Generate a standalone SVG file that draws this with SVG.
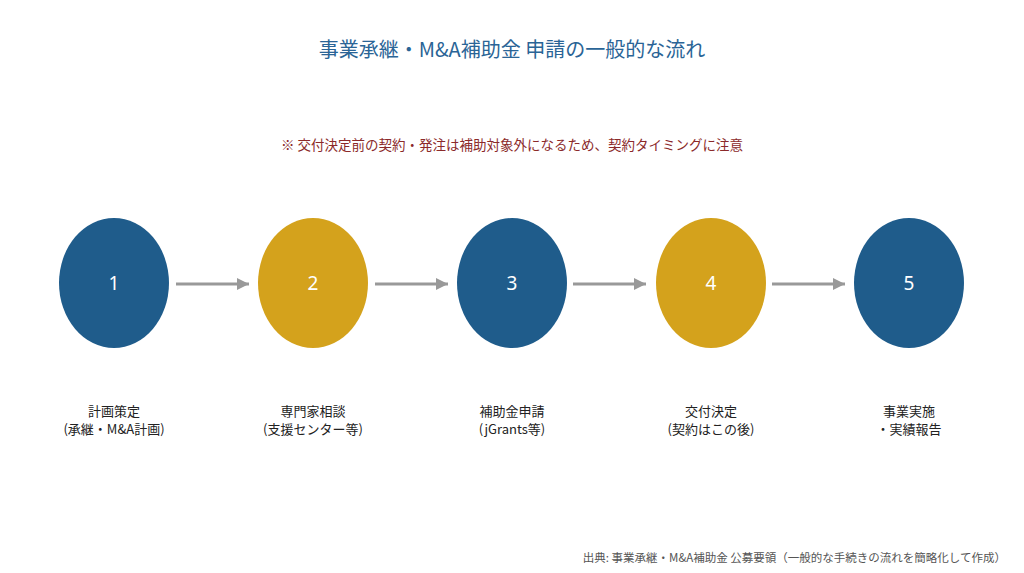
<svg xmlns="http://www.w3.org/2000/svg" width="1024" height="573" viewBox="0 0 1024 573">
<defs>
<marker id="ah" viewBox="0 0 10 10" refX="10" refY="5" markerWidth="4" markerHeight="4" orient="auto" markerUnits="strokeWidth">
<path d="M0,0 L10,5 L0,10 z" fill="#999999"/>
</marker>
<style>
text{font-family:"Noto Sans CJK JP","Noto Sans",sans-serif;}
.title{font-size:20px;fill:#2a6496;text-anchor:middle;}
.note{font-size:13.5px;fill:#8b2a2a;text-anchor:middle;}
.num{font-size:19px;fill:#ffffff;text-anchor:middle;font-family:"Noto Sans","Noto Sans CJK JP",sans-serif;}
.lbl{font-size:13px;fill:#222222;text-anchor:middle;}
.src{font-size:11.5px;fill:#555555;text-anchor:end;}
.blue{fill:#1f5c8b;}
.gold{fill:#d4a21c;}
.conn line{stroke:#999999;stroke-width:3;marker-end:url(#ah);}
</style>
</defs>
<rect width="1024" height="573" fill="#ffffff"/>
<text class="title" x="512" y="57">事業承継・M&amp;A補助金 申請の一般的な流れ</text>
<text class="note" x="512" y="150">※ 交付決定前の契約・発注は補助対象外になるため、契約タイミングに注意</text>
<g class="conn">
<line x1="176" y1="284" x2="249" y2="284"/>
<line x1="375" y1="284" x2="448" y2="284"/>
<line x1="573" y1="284" x2="646" y2="284"/>
<line x1="772" y1="284" x2="845" y2="284"/>
</g>
<g id="n1"><ellipse class="blue" cx="114" cy="283" rx="55" ry="65"/><text class="num" x="114" y="290">1</text>
<text class="lbl" x="114" y="416">計画策定</text><text class="lbl" x="114" y="434">(承継・M&amp;A計画)</text></g>
<g id="n2"><ellipse class="gold" cx="313" cy="283" rx="55" ry="65"/><text class="num" x="313" y="290">2</text>
<text class="lbl" x="313" y="416">専門家相談</text><text class="lbl" x="313" y="434">(支援センター等)</text></g>
<g id="n3"><ellipse class="blue" cx="512" cy="283" rx="55" ry="65"/><text class="num" x="512" y="290">3</text>
<text class="lbl" x="512" y="416">補助金申請</text><text class="lbl" x="512" y="434">(jGrants等)</text></g>
<g id="n4"><ellipse class="gold" cx="711" cy="283" rx="55" ry="65"/><text class="num" x="711" y="290">4</text>
<text class="lbl" x="711" y="416">交付決定</text><text class="lbl" x="711" y="434">(契約はこの後)</text></g>
<g id="n5"><ellipse class="blue" cx="909" cy="283" rx="55" ry="65"/><text class="num" x="909" y="290">5</text>
<text class="lbl" x="909" y="416">事業実施</text><text class="lbl" x="909" y="434">・実績報告</text></g>
<text class="src" x="1006" y="562">出典: 事業承継・M&amp;A補助金 公募要領（一般的な手続きの流れを簡略化して作成）</text>
</svg>
